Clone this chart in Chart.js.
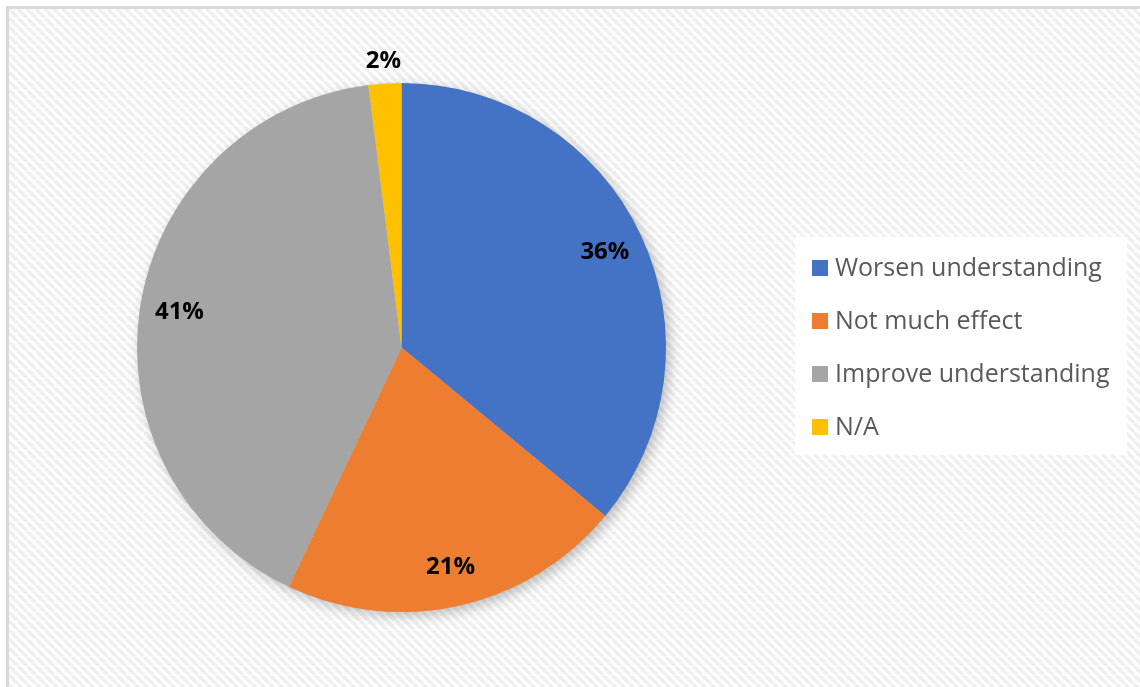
<!DOCTYPE html>
<html>
<head>
<meta charset="utf-8">
<script src="https://cdn.jsdelivr.net/npm/chart.js@4"></script>
<style>
  html, body { margin: 0; padding: 0; background: #fff; }
  #wrap { width: 1140px; height: 687px; position: relative; }
</style>
</head>
<body>
<div id="wrap"><canvas id="myChart" width="1140" height="687"></canvas></div>
<script>
const categories = ['Worsen understanding', 'Not much effect', 'Improve understanding', 'N/A']
const shares = [36, 21, 41, 2]
const colors = ['#4472C4', '#ED7D31', '#A5A5A5', '#FFC000']

const canvas = document.getElementById('myChart')

// diagonal hatch behind everything, with the grey frame on top/left
const backdrop = {
    id: 'backdrop',
    beforeDraw(chart) {
        const ctx = chart.ctx
        const tile = document.createElement('canvas')
        tile.width = 9
        tile.height = 9
        const t = tile.getContext('2d')
        t.fillStyle = '#ffffff'
        t.fillRect(0, 0, 9, 9)
        t.strokeStyle = '#efefef'
        t.lineWidth = 3.5
        for (const off of [-9, 0, 9]) {
            t.beginPath()
            t.moveTo(off, 0)
            t.lineTo(off + 9, 9)
            t.stroke()
        }
        ctx.save()
        ctx.fillStyle = '#ffffff'
        ctx.fillRect(0, 0, chart.width, chart.height)
        ctx.fillStyle = ctx.createPattern(tile, 'repeat')
        ctx.fillRect(9, 9, chart.width - 9, chart.height - 9)
        ctx.fillStyle = '#d9d9d9'
        ctx.fillRect(6, 6, chart.width - 6, 3)
        ctx.fillRect(6, 6, 3, chart.height - 6)
        ctx.restore()
    },
    beforeDatasetsDraw(chart) {
        const arc = chart.getDatasetMeta(0).data[0]
        if (!arc) return
        const ctx = chart.ctx
        ctx.save()
        ctx.shadowColor = 'rgba(0,0,0,0.28)'
        ctx.shadowBlur = 14
        ctx.shadowOffsetX = 4
        ctx.shadowOffsetY = 4
        ctx.fillStyle = '#cccccc'
        ctx.beginPath()
        ctx.arc(arc.x, arc.y, arc.outerRadius - 1, 0, Math.PI * 2)
        ctx.fill()
        ctx.restore()
    }
}

// percentage labels: inside the slice, outside for very thin ones
const sliceLabels = {
    id: 'sliceLabels',
    afterDatasetsDraw(chart) {
        const ctx = chart.ctx
        const total = shares.reduce((a, b) => a + b, 0)
        ctx.save()
        ctx.font = 'bold 24px "Open Sans"'
        ctx.fillStyle = '#000000'
        ctx.textAlign = 'center'
        ctx.textBaseline = 'middle'
        chart.getDatasetMeta(0).data.forEach((arc, i) => {
            const mid = (arc.startAngle + arc.endAngle) / 2
            const share = shares[i] / total
            const r = share < 0.05 ? arc.outerRadius + 22 : arc.outerRadius * 0.85
            const x = arc.x + Math.cos(mid) * r
            const y = arc.y + Math.sin(mid) * r
            ctx.fillText(Math.round(share * 100) + '%', x, y)
        })
        ctx.restore()
    }
}

// legend box on the right
const sideLegend = {
    id: 'sideLegend',
    afterDraw(chart) {
        const ctx = chart.ctx
        ctx.save()
        ctx.fillStyle = '#ffffff'
        ctx.fillRect(795, 237, 332, 218)
        ctx.font = '25px "Open Sans"'
        ctx.textBaseline = 'middle'
        ctx.textAlign = 'left'
        categories.forEach((label, i) => {
            const y = 268 + i * 53
            ctx.fillStyle = colors[i]
            ctx.fillRect(812, y - 8, 16, 16)
            ctx.fillStyle = '#595959'
            ctx.fillText(label, 835, y + 1)
        })
        ctx.restore()
    }
}

const config = {
    type: 'pie',
    data: {
        labels: categories,
        datasets: [{
            data: shares,
            backgroundColor: colors,
            borderWidth: 0
        }]
    },
    options: {
        responsive: false,
        animation: false,
        rotation: 0,
        layout: {
            padding: { left: 137, right: 474, top: 83, bottom: 75 }
        },
        plugins: {
            legend: { display: false },
            tooltip: { enabled: false }
        }
    },
    plugins: [backdrop, sliceLabels, sideLegend]
}

const myChart = new Chart(canvas, config)
</script>
</body>
</html>
